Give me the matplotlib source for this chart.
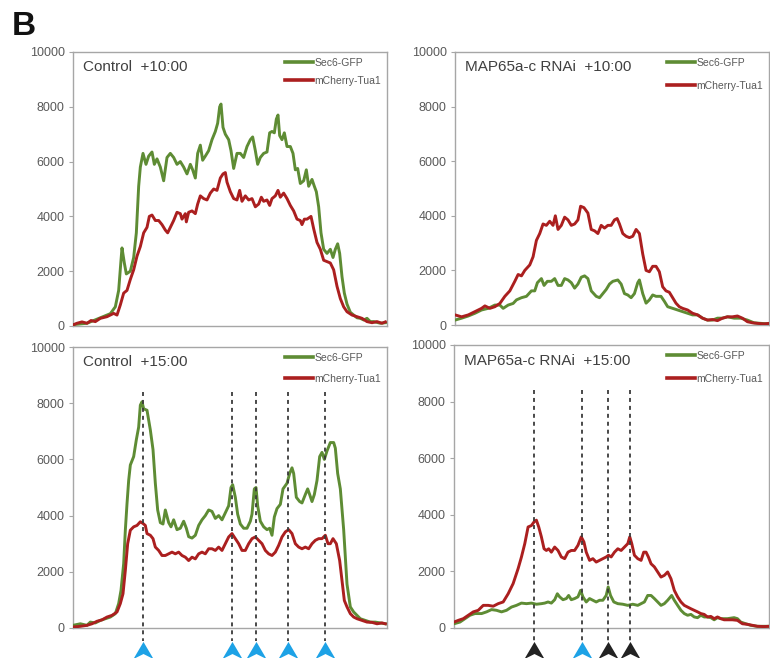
import matplotlib
matplotlib.use("Agg")
import matplotlib.pyplot as plt
from matplotlib.path import Path
from matplotlib.transforms import blended_transform_factory

plt.rcParams['font.family'] = ['Liberation Sans', 'DejaVu Sans']

GREEN = '#5e8c34'
RED = '#ab1f1f'
BLUE = '#1da2e6'
DARK = '#222222'
FRAME = '#a6a6a6'
TXT = '#595959'

# ---- line-scan profiles (position along scan, intensity) ----
# Control +10:00
ctrl10_gfp_pos = [0, 42, 82, 112, 127, 137, 144, 147, 154, 160, 172, 182, 190, 197, 202, 210, 219, 227, 237, 244,
                  252, 262, 272, 282, 292, 302, 312, 322, 332, 342, 352, 359, 367, 374, 382, 389, 397, 407, 417, 427,
                  434, 440, 444, 450, 457, 467, 474, 482, 492, 502, 512, 522, 532, 539, 547, 554, 562, 572, 582, 590,
                  597, 604, 610, 615, 620, 627, 634, 642, 652, 660, 667, 674, 682, 692, 700, 707, 717, 724, 730, 737,
                  744, 752, 762, 772, 780, 787, 794, 800, 807, 814, 822, 832, 842, 852, 862, 872, 882, 892, 902, 922, 937]
ctrl10_gfp = [50, 100, 300, 450, 700, 1300, 2400, 2850, 2300, 1900, 2000, 2500, 3400, 5100, 5800, 6300, 5900, 6200, 6350, 5900,
              6100, 5800, 5300, 6150, 6300, 6150, 5900, 6000, 5800, 5550, 5900, 5700, 5400, 6300, 6600, 6050, 6200, 6400, 6800, 7100,
              7400, 8000, 8100, 7250, 7000, 6800, 6400, 5750, 6300, 6300, 6150, 6550, 6800, 6900, 6400, 5900, 6150, 6300, 6350, 7050,
              7100, 7050, 7550, 7700, 6950, 6800, 7050, 6550, 6550, 6300, 5700, 5750, 5200, 5300, 5700, 5100, 5350, 5100, 4900, 4350,
              3400, 2800, 2650, 2800, 2500, 2800, 3000, 2650, 1800, 1200, 800, 500, 400, 300, 280, 220, 280, 160, 160, 100, 120]
ctrl10_tua_pos = [0, 12, 27, 42, 54, 67, 82, 102, 122, 132, 142, 152, 162, 172, 182, 192, 202, 212, 222, 229,
                  237, 247, 257, 267, 277, 284, 292, 302, 312, 322, 327, 337, 340, 347, 357, 367, 374, 382, 392, 402,
                  412, 422, 432, 442, 450, 457, 462, 472, 482, 492, 500, 507, 517, 527, 537, 547, 557, 565, 572, 582,
                  590, 597, 607, 615, 622, 632, 642, 652, 662, 672, 682, 687, 694, 702, 714, 722, 732, 742, 752, 762,
                  772, 782, 792, 802, 812, 822, 837, 852, 867, 882, 897, 912, 927, 937]
ctrl10_tua = [40, 100, 150, 100, 200, 160, 280, 340, 460, 400, 770, 1200, 1300, 1700, 2050, 2550, 2900, 3400, 3600, 4000,
              4050, 3850, 3850, 3700, 3500, 3400, 3600, 3850, 4150, 4100, 3900, 4100, 3800, 4150, 4200, 4100, 4450, 4750, 4650, 4600,
              4850, 5000, 4950, 5400, 5550, 5600, 5250, 4900, 4650, 4600, 4950, 4550, 4750, 4600, 4650, 4350, 4450, 4700, 4550, 4600,
              4400, 4650, 4750, 4950, 4700, 4850, 4650, 4400, 4200, 3900, 3850, 3700, 3900, 3900, 4000, 3550, 3050, 2800, 2400, 2350,
              2300, 2050, 1450, 1000, 700, 520, 400, 340, 280, 160, 120, 160, 100, 150]

# MAP65a-c RNAi +10:00
rnai10_gfp_pos = [0, 20, 40, 60, 80, 100, 120, 135, 145, 160, 175, 185, 200, 215, 230, 240, 248, 260, 268, 278,
                  290, 300, 310, 320, 330, 340, 350, 360, 370, 380, 390, 400, 410, 425, 435, 445, 455, 465, 475, 490,
                  500, 510, 520, 530, 540, 550, 555, 565, 575, 585, 595, 605, 620, 630, 640, 655, 670, 685, 700, 715,
                  730, 745, 760, 775, 790, 805, 820, 840, 860, 880, 900, 920, 945]
rnai10_gfp = [180, 250, 330, 430, 550, 610, 730, 730, 610, 730, 790, 920, 1000, 1050, 1250, 1250, 1550, 1700, 1450, 1600,
              1600, 1700, 1450, 1450, 1700, 1650, 1550, 1350, 1500, 1750, 1800, 1700, 1250, 1050, 1000, 1150, 1300, 1500, 1600, 1650,
              1500, 1150, 1100, 1000, 1150, 1550, 1650, 1150, 800, 920, 1100, 1050, 1050, 870, 670, 610, 550, 490, 430, 370,
              370, 250, 180, 180, 250, 250, 300, 250, 250, 180, 80, 60, 40]
rnai10_tua_pos = [0, 20, 40, 60, 80, 90, 105, 120, 135, 150, 165, 180, 190, 200, 210, 225, 235, 245, 255, 265,
                  275, 285, 295, 302, 310, 320, 330, 340, 350, 360, 370, 378, 388, 400, 410, 420, 430, 440, 450, 460,
                  470, 480, 488, 495, 505, 515, 525, 535, 545, 555, 565, 575, 585, 595, 605, 615, 625, 635, 645, 655,
                  665, 675, 685, 700, 715, 730, 745, 760, 775, 790, 805, 820, 835, 850, 865, 880, 895, 910, 930, 945]
rnai10_tua = [370, 300, 370, 490, 610, 700, 610, 670, 790, 1050, 1250, 1600, 1850, 1800, 2000, 2200, 2500, 3100, 3350, 3700,
              3650, 3800, 3650, 4000, 3500, 3650, 3950, 3850, 3650, 3700, 3850, 4350, 4300, 4100, 3500, 3450, 3350, 3650, 3550, 3650,
              3650, 3850, 3900, 3700, 3350, 3250, 3200, 3250, 3500, 3350, 2600, 2000, 1950, 2150, 2150, 1950, 1400, 1250, 1200, 1000,
              800, 670, 610, 550, 430, 370, 250, 180, 200, 160, 250, 300, 300, 330, 250, 120, 80, 60, 40, 60]

# Control +15:00
ctrl15_gfp_pos = [0, 22, 42, 52, 67, 82, 97, 112, 127, 137, 144, 152, 157, 162, 167, 172, 182, 190, 197, 202,
                  207, 212, 222, 232, 240, 247, 254, 262, 270, 277, 287, 294, 302, 312, 322, 332, 340, 347, 357, 367,
                  377, 387, 397, 407, 417, 427, 437, 447, 457, 467, 474, 479, 487, 494, 502, 512, 522, 532, 537, 544,
                  549, 554, 562, 572, 582, 590, 597, 604, 612, 622, 630, 642, 650, 657, 662, 670, 680, 687, 697, 704,
                  710, 717, 724, 732, 740, 747, 754, 762, 772, 782, 787, 794, 802, 812, 822, 832, 842, 852, 862, 877,
                  892, 907, 922, 937]
ctrl15_gfp = [95, 150, 95, 210, 180, 270, 330, 390, 510, 870, 1340, 2290, 3480, 4420, 5250, 5800, 6100, 6700, 7150, 7930,
              8050, 7800, 7750, 7050, 6350, 5150, 4200, 3750, 3700, 4200, 3750, 3600, 3850, 3500, 3550, 3800, 3550, 3250, 3200, 3300,
              3650, 3850, 4000, 4200, 4150, 3900, 4000, 3850, 4100, 4350, 5000, 5100, 4650, 4050, 3700, 3550, 3550, 3800, 4050, 4950,
              5000, 4350, 3800, 3600, 3500, 3550, 3300, 3950, 4250, 4400, 4950, 5150, 5500, 5700, 5500, 4650, 4500, 4450, 4750, 4950,
              4750, 4500, 4750, 5250, 6100, 6250, 6000, 6300, 6600, 6600, 6400, 5500, 4950, 3500, 1560, 750, 570, 450, 330, 270,
              210, 210, 180, 150]
ctrl15_tua_pos = [0, 22, 42, 57, 72, 87, 102, 117, 132, 142, 150, 157, 164, 172, 182, 192, 202, 210, 217, 222,
                  232, 240, 247, 257, 267, 277, 287, 297, 307, 317, 327, 337, 347, 357, 367, 377, 387, 397, 407, 417,
                  427, 437, 447, 457, 467, 477, 487, 497, 507, 517, 527, 537, 547, 557, 567, 577, 587, 597, 607, 617,
                  627, 637, 647, 657, 667, 677, 687, 697, 707, 717, 727, 737, 747, 757, 765, 772, 780, 790, 800, 807,
                  814, 822, 832, 842, 852, 867, 882, 897, 912, 927, 937]
ctrl15_tua = [35, 60, 95, 150, 240, 290, 390, 450, 570, 870, 1220, 2050, 3000, 3480, 3600, 3650, 3780, 3720, 3650, 3360,
              3300, 3180, 2880, 2760, 2580, 2580, 2640, 2700, 2640, 2700, 2580, 2520, 2400, 2520, 2460, 2640, 2700, 2640, 2820, 2820,
              2760, 2880, 2760, 3000, 3240, 3360, 3180, 3000, 2760, 2760, 3000, 3180, 3240, 3120, 3000, 2760, 2640, 2580, 2700, 2940,
              3240, 3420, 3500, 3360, 3000, 2880, 2820, 2880, 2820, 3000, 3120, 3180, 3180, 3300, 3000, 3000, 3180, 3000, 2400, 1690,
              980, 750, 510, 390, 330, 270, 210, 200, 150, 180, 150]

# MAP65a-c RNAi +15:00
rnai15_gfp_pos = [0, 18, 33, 48, 63, 83, 98, 113, 128, 143, 158, 173, 188, 203, 218, 233, 248, 263, 273, 283,
                  293, 303, 311, 318, 328, 338, 345, 353, 363, 373, 381, 388, 398, 408, 418, 428, 438, 448, 458, 464,
                  471, 481, 493, 508, 523, 538, 553, 563, 573, 583, 593, 603, 613, 623, 633, 643, 655, 663, 673, 683,
                  693, 703, 713, 723, 733, 743, 753, 763, 773, 783, 793, 803, 823, 843, 853, 863, 878, 893, 913, 933, 948]
rnai15_gfp = [150, 210, 330, 450, 510, 510, 570, 650, 625, 570, 625, 740, 800, 880, 860, 880, 840, 860, 880, 920,
              880, 1000, 1210, 1100, 1000, 1040, 1150, 1000, 1040, 1100, 1330, 1100, 920, 1040, 980, 920, 980, 980, 1150, 1450,
              1150, 920, 860, 840, 800, 840, 800, 860, 920, 1150, 1150, 1040, 920, 800, 860, 980, 1150, 980, 800, 625,
              510, 450, 480, 390, 365, 450, 390, 390, 365, 290, 365, 330, 330, 365, 330, 210, 150, 95, 60, 60, 60]
rnai15_tua_pos = [0, 13, 28, 43, 58, 73, 88, 103, 118, 133, 148, 163, 178, 193, 203, 213, 223, 233, 241, 248,
                  255, 263, 271, 278, 285, 293, 303, 313, 323, 333, 343, 353, 363, 373, 383, 391, 398, 408, 418, 428,
                  438, 448, 458, 465, 473, 483, 493, 503, 513, 523, 529, 535, 543, 553, 563, 571, 578, 585, 593, 603,
                  613, 623, 633, 643, 653, 663, 673, 683, 693, 703, 713, 723, 733, 743, 753, 763, 773, 783, 793, 803,
                  813, 823, 838, 853, 868, 883, 898, 913, 933, 948]
rnai15_tua = [210, 270, 330, 450, 570, 625, 800, 800, 770, 860, 920, 1210, 1570, 2100, 2510, 2980, 3570, 3620, 3750, 3810,
              3570, 3220, 2800, 2740, 2800, 2680, 2860, 2740, 2510, 2450, 2680, 2740, 2740, 2920, 3220, 3040, 2680, 2390, 2450, 2330,
              2390, 2450, 2510, 2570, 2510, 2680, 2800, 2740, 2860, 2980, 3220, 2980, 2570, 2450, 2390, 2680, 2680, 2510, 2270, 2160,
              1980, 1800, 1860, 1980, 1740, 1330, 1100, 920, 800, 740, 680, 625, 570, 510, 480, 390, 410, 330, 390, 330,
              290, 290, 290, 270, 150, 130, 95, 60, 50, 60]

# marked positions (dashed guides + arrowheads)
ctrl15_marks = [209, 477, 549, 645, 757]
ctrl15_mark_colors = [BLUE, BLUE, BLUE, BLUE, BLUE]
rnai15_marks = [240, 384, 464, 529]
rnai15_mark_colors = [DARK, BLUE, DARK, DARK]

yticks = [0, 2000, 4000, 6000, 8000, 10000]
series_labels = ['Sec6-GFP', 'mCherry-Tua1']

panels = [
    dict(rect=[73 / 770, 1 - 326 / 658, 314 / 770, 274 / 658], title='Control  +10:00', xmax=942,
         gfp=(ctrl10_gfp_pos, ctrl10_gfp), tua=(ctrl10_tua_pos, ctrl10_tua), marks=None, lspace=0.8),
    dict(rect=[455 / 770, 1 - 325 / 658, 314 / 770, 273 / 658], title='MAP65a-c RNAi  +10:00', xmax=945,
         gfp=(rnai10_gfp_pos, rnai10_gfp), tua=(rnai10_tua_pos, rnai10_tua), marks=None, lspace=1.25),
    dict(rect=[73 / 770, 1 - 628 / 658, 314 / 770, 281 / 658], title='Control  +15:00', xmax=942,
         gfp=(ctrl15_gfp_pos, ctrl15_gfp), tua=(ctrl15_tua_pos, ctrl15_tua),
         marks=(ctrl15_marks, ctrl15_mark_colors), lspace=1.05),
    dict(rect=[454 / 770, 1 - 628 / 658, 315 / 770, 283 / 658], title='MAP65a-c RNAi  +15:00', xmax=948,
         gfp=(rnai15_gfp_pos, rnai15_gfp), tua=(rnai15_tua_pos, rnai15_tua),
         marks=(rnai15_marks, rnai15_mark_colors), lspace=1.25),
]

# notched upward arrowhead
arrow_marker = Path([(0, 0.85), (1, -0.85), (0, -0.35), (-1, -0.85), (0, 0.85)],
                    [Path.MOVETO, Path.LINETO, Path.LINETO, Path.LINETO, Path.CLOSEPOLY])

fig = plt.figure(figsize=(7.7, 6.58), dpi=100)

for p in panels:
    ax = fig.add_axes(p['rect'])
    ax.plot(*p['gfp'], color=GREEN, lw=2.1, label=series_labels[0], solid_joinstyle='round', zorder=3)
    ax.plot(*p['tua'], color=RED, lw=2.1, label=series_labels[1], solid_joinstyle='round', zorder=3)
    ax.set_xlim(0, p['xmax'])
    ax.set_ylim(0, 10000)
    ax.set_yticks(yticks)
    ax.set_yticklabels([str(v) for v in yticks])
    ax.set_xticks([])
    ax.tick_params(axis='y', direction='out', length=3, width=0.8, color=FRAME,
                   labelsize=9, labelcolor=TXT, pad=3)
    for s in ax.spines.values():
        s.set_color(FRAME)
        s.set_linewidth(1.0)
    ax.text(0.032, 0.945, p['title'], transform=ax.transAxes, fontsize=11,
            color='#404040', va='center', ha='left')
    leg = ax.legend(loc='upper right', bbox_to_anchor=(1.0, 1.0), frameon=False,
                    fontsize=7.5, handlelength=2.7, handletextpad=0.1,
                    labelspacing=p['lspace'], borderaxespad=0.25, borderpad=0.3)
    for t in leg.get_texts():
        t.set_color(TXT)
    for h in leg.get_lines():
        h.set_linewidth(2.6)

    if p['marks'] is not None:
        xs, cols = p['marks']
        tr = blended_transform_factory(ax.transData, ax.transAxes)
        for x, c in zip(xs, cols):
            ax.plot([x, x], [0.84, -0.045], transform=tr, color='#3a3a3a', lw=1.3,
                    linestyle=(0, (2.2, 2.2)), clip_on=False, zorder=4)
            ax.plot([x], [-0.077], transform=tr, marker=arrow_marker, markersize=14.5,
                    color=c, markeredgewidth=0, clip_on=False, zorder=5)

fig.text(12 / 770, 1 - 35 / 658, 'B', fontsize=24, fontweight='bold', color='#111111',
         ha='left', va='baseline')

fig.savefig('out.png', dpi=100)
